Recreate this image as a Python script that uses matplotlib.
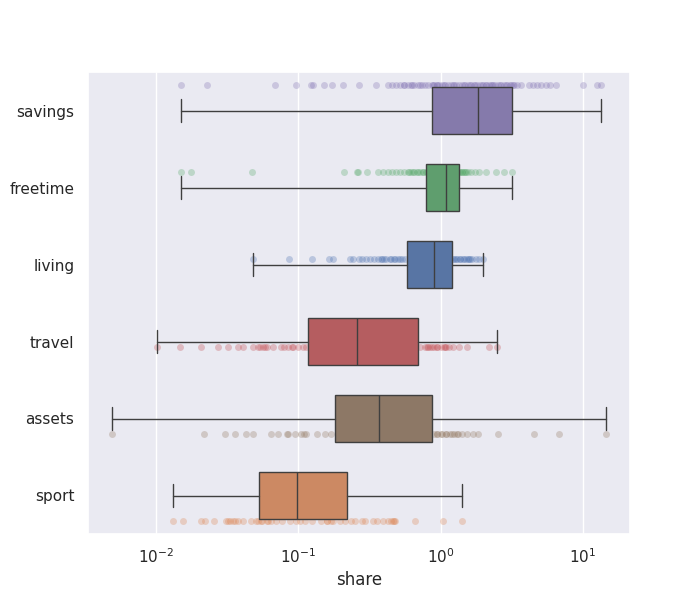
import matplotlib
matplotlib.use("Agg")
import matplotlib.pyplot as plt
import seaborn as sns
import numpy as np

sns.set_theme(style="darkgrid")
plt.rcParams['font.family'] = ['DejaVu Sans']

categories = ["savings", "freetime", "living", "travel", "assets", "sport"]

# box statistics (whisker low, Q1, median, Q3, whisker high)
whislo = [0.0150, 0.0150, 0.0482, 0.0102, 0.0049, 0.0132]
q1 = [0.878, 0.797, 0.586, 0.1176, 0.182, 0.0531]
med = [1.822, 1.10, 0.907, 0.260, 0.372, 0.0984]
q3 = [3.16, 1.34, 1.195, 0.700, 0.878, 0.221]
whishi = [13.4, 3.16, 1.98, 2.48, 14.5, 1.406]

savings = [0.0150, 0.0229, 0.0689, 0.0968, 0.1235, 0.1276, 0.152, 0.173, 0.207, 0.269,
           0.354, 0.430, 0.459, 0.490, 0.523, 0.55, 0.557, 0.595, 0.62, 0.635, 0.656,
           0.700, 0.72, 0.747, 0.784, 0.823, 0.865, 0.88, 0.907, 0.937, 0.95, 0.968,
           1.016, 1.05, 1.067, 1.12, 1.176, 1.215, 1.25, 1.275, 1.339, 1.406, 1.45,
           1.476, 1.549, 1.6, 1.626, 1.708, 1.75, 1.793, 1.882, 1.95, 1.976, 2.074,
           2.1, 2.178, 2.25, 2.286, 2.35, 2.40, 2.52, 2.6, 2.646, 2.778, 2.9, 2.916,
           3.06, 3.1, 3.21, 3.3, 3.43, 3.66, 4.17, 4.44, 4.74, 5.06, 5.49, 5.86, 6.45,
           10.0, 12.55, 13.4]
freetime = [0.0150, 0.0176, 0.0474, 0.211, 0.260, 0.265, 0.306, 0.366, 0.397, 0.430,
            0.459, 0.490, 0.523, 0.557, 0.595, 0.60, 0.625, 0.64, 0.656, 0.689, 0.70,
            0.723, 0.75, 0.759, 0.797, 0.80, 0.851, 0.85, 0.907, 0.968, 1.033, 1.10,
            1.176, 1.255, 1.30, 1.339, 1.38, 1.406, 1.42, 1.45, 1.476, 1.52, 1.549,
            1.626, 1.736, 1.852, 2.074, 2.44, 2.778, 3.16]
living = [0.0482, 0.0864, 0.1256, 0.1653, 0.1764, 0.2323, 0.244, 0.269, 0.282, 0.301,
          0.321, 0.343, 0.366, 0.38, 0.391, 0.40, 0.417, 0.444, 0.45, 0.474, 0.48,
          0.506, 0.52, 0.540, 0.567, 0.615, 0.667, 0.723, 0.784, 0.851, 0.922, 1.0,
          1.084, 1.157, 1.22, 1.235, 1.28, 1.296, 1.361, 1.38, 1.429, 1.45, 1.50,
          1.55, 1.574, 1.62, 1.653, 1.763, 1.852, 1.976]
travel = [0.0102, 0.0148, 0.0207, 0.0273, 0.0321, 0.0378, 0.041, 0.0482, 0.052, 0.054,
          0.057, 0.0586, 0.06, 0.0667, 0.0759, 0.08, 0.0851, 0.09, 0.0922, 0.100,
          0.1084, 0.1138, 0.1318, 0.168, 0.214, 0.260, 0.321, 0.410, 0.523, 0.615,
          0.723, 0.772, 0.80, 0.823, 0.85, 0.878, 0.90, 0.937, 0.95, 1.0, 1.05, 1.067,
          1.10, 1.138, 1.215, 1.339, 1.524, 2.178, 2.48]
assets = [0.0049, 0.0218, 0.0306, 0.036, 0.0430, 0.0482, 0.0645, 0.0723, 0.0837, 0.085,
          0.0953, 0.105, 0.11, 0.1138, 0.136, 0.155, 0.171, 0.198, 0.252, 0.321, 0.410,
          0.523, 0.667, 0.784, 0.893, 0.95, 0.952, 1.0, 1.016, 1.084, 1.10, 1.157,
          1.2, 1.235, 1.3, 1.317, 1.406, 1.524, 1.68, 1.823, 2.52, 4.52, 6.78, 14.5]
sport = [0.0132, 0.0155, 0.0207, 0.0221, 0.0256, 0.0321, 0.031, 0.033, 0.0348, 0.036,
         0.038, 0.041, 0.0467, 0.0506, 0.052, 0.055, 0.0558, 0.06, 0.0615, 0.065,
         0.070, 0.0771, 0.0879, 0.0968, 0.1033, 0.112, 0.1256, 0.145, 0.160, 0.16,
         0.17, 0.1764, 0.198, 0.214, 0.236, 0.252, 0.282, 0.296, 0.337, 0.36, 0.397,
         0.430, 0.45, 0.467, 0.47, 0.482, 0.667, 1.033, 1.406]
points = [savings, freetime, living, travel, assets, sport]

box_colors = ["#857aab", "#5f9e6e", "#5875a4", "#b55d60", "#8d7866", "#cc8963"]
point_colors = ["#8172b3", "#55a868", "#4c72b0", "#c44e52", "#937860", "#dd8452"]

fig, ax = plt.subplots(figsize=(7, 6), dpi=100)
ax.set_xscale("log")

n = len(categories)
for i, vals in enumerate(points):
    off = -0.4 + 0.8 * (i + 0.5) / n
    ax.scatter(vals, [i + off] * len(vals), s=25, color=point_colors[i], alpha=0.3,
               linewidths=0, zorder=1)

stats = []
for i, c in enumerate(categories):
    stats.append(dict(label=c, whislo=whislo[i], q1=q1[i], med=med[i], q3=q3[i],
                      whishi=whishi[i], fliers=[]))
line_col = "#3f3f3f"
bp = ax.bxp(stats, positions=range(n), widths=0.6, vert=False, patch_artist=True,
            showfliers=False,
            boxprops=dict(edgecolor=line_col, linewidth=1.0),
            medianprops=dict(color=line_col, linewidth=1.0),
            whiskerprops=dict(color=line_col, linewidth=1.0),
            capprops=dict(color=line_col, linewidth=1.0))
for patch, col in zip(bp["boxes"], box_colors):
    patch.set_facecolor(col)
    patch.set_zorder(2)
for key in ["medians", "whiskers", "caps"]:
    for ln in bp[key]:
        ln.set_zorder(3)

ax.set_yticks(range(n))
ax.set_yticklabels(categories)
ax.set_ylim(n - 0.5, -0.5)
ax.set_xlim(0.00332, 21.4)
ax.yaxis.grid(False)
ax.xaxis.grid(True, which="major")
ax.xaxis.grid(False, which="minor")
ax.set_xlabel("share")
ax.set_ylabel("")

fig.savefig("out.png", dpi=100)
